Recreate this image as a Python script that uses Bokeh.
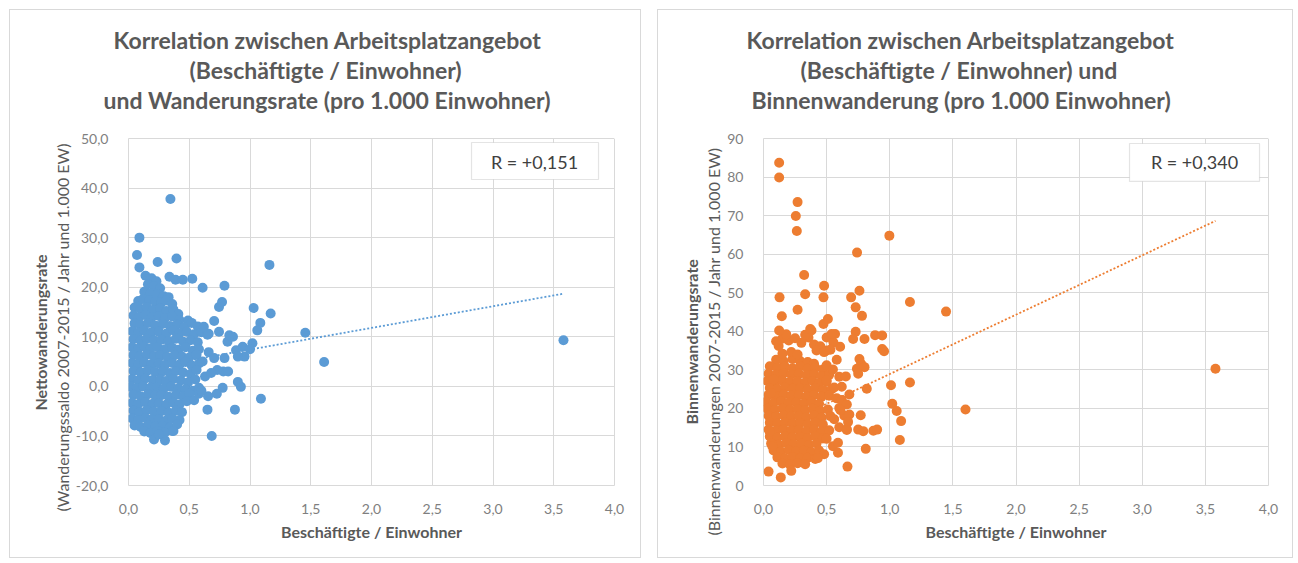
from bokeh.plotting import figure
from bokeh.layouts import row
from bokeh.models import Range1d, FixedTicker, Label, BoxAnnotation, Title, LinearAxis
from bokeh.embed import file_html
from bokeh.resources import INLINE

# ---------------------------------------------------------------- data
x_ticks = [0.0, 0.5, 1.0, 1.5, 2.0, 2.5, 3.0, 3.5, 4.0]
x_tick_labels = ["0,0", "0,5", "1,0", "1,5", "2,0", "2,5", "3,0", "3,5", "4,0"]

netto_ticks = [-20, -10, 0, 10, 20, 30, 40, 50]
netto_tick_labels = ["-20,0", "-10,0", "0,0", "10,0", "20,0", "30,0", "40,0", "50,0"]

binnen_ticks = [0, 10, 20, 30, 40, 50, 60, 70, 80, 90]
binnen_tick_labels = ["0", "10", "20", "30", "40", "50", "60", "70", "80", "90"]

# Nettowanderungsrate: dense core of municipalities
netto_core = [
    (0.14, 22.3), (0.19, 21.8), (0.23, 21.2),
    (0.16, 20.6), (0.21, 20.2), (0.26, 19.8),
    (0.13, 19.1), (0.18, 18.8), (0.24, 18.6), (0.29, 18.2), (0.33, 18.0),
    (0.08, 17.2), (0.12, 17.6), (0.17, 17.4), (0.22, 17.1), (0.27, 16.9), (0.31, 17.3), (0.36, 16.6),
    (0.05, 15.9), (0.10, 15.6), (0.15, 16.0), (0.20, 15.4), (0.26, 15.7), (0.31, 15.2), (0.37, 15.5), (0.41, 14.6),
    (0.04, 14.3), (0.09, 14.0), (0.14, 14.4), (0.19, 13.9), (0.25, 14.2), (0.30, 13.8), (0.36, 14.1), (0.42, 13.4), (0.49, 13.3),
    (0.05, 12.7), (0.10, 12.4), (0.16, 12.8), (0.22, 12.3), (0.28, 12.6), (0.34, 12.2), (0.40, 12.5), (0.46, 11.9), (0.52, 12.8), (0.57, 12.1),
    (0.03, 11.1), (0.08, 10.8), (0.13, 11.2), (0.19, 10.9), (0.25, 11.0), (0.31, 10.6), (0.37, 11.3), (0.42, 10.7), (0.48, 11.0), (0.54, 10.5), (0.60, 10.9), (0.65, 10.4),
    (0.04, 9.5), (0.10, 9.2), (0.15, 9.6), (0.21, 9.3), (0.27, 9.4), (0.33, 9.1), (0.39, 9.6), (0.45, 9.0), (0.51, 9.3), (0.57, 8.9),
    (0.03, 7.9), (0.08, 7.6), (0.13, 8.0), (0.18, 7.7), (0.24, 7.9), (0.30, 7.5), (0.36, 7.8), (0.41, 7.4), (0.47, 7.9), (0.53, 7.2), (0.58, 7.5),
    (0.04, 6.3), (0.09, 6.0), (0.15, 6.4), (0.21, 6.1), (0.26, 6.2), (0.32, 5.9), (0.38, 6.3), (0.44, 6.0), (0.50, 5.8), (0.56, 6.4),
    (0.03, 4.7), (0.08, 4.4), (0.13, 4.8), (0.19, 4.5), (0.25, 4.6), (0.30, 4.3), (0.36, 4.7), (0.42, 4.4), (0.47, 4.9), (0.52, 4.2), (0.58, 4.6),
    (0.04, 3.1), (0.10, 2.8), (0.16, 3.2), (0.22, 2.9), (0.28, 3.0), (0.34, 2.7), (0.39, 3.1), (0.45, 2.8), (0.51, 2.5), (0.56, 3.3),
    (0.03, 1.5), (0.08, 1.2), (0.14, 1.6), (0.20, 1.3), (0.26, 1.4), (0.31, 1.1), (0.37, 1.5), (0.43, 1.2), (0.49, 0.8), (0.55, 1.4),
    (0.02, -0.1), (0.07, -0.4), (0.12, 0.0), (0.18, -0.3), (0.24, -0.2), (0.29, -0.5), (0.35, -0.1), (0.41, -0.4), (0.47, -0.6), (0.53, -0.9), (0.58, -0.3),
    (0.04, -1.7), (0.10, -2.0), (0.16, -1.6), (0.22, -1.9), (0.27, -1.8), (0.33, -2.1), (0.39, -1.7), (0.45, -2.0), (0.50, -1.5),
    (0.03, -3.3), (0.08, -3.6), (0.14, -3.2), (0.20, -3.5), (0.25, -3.4), (0.31, -3.7), (0.37, -3.3), (0.42, -3.6), (0.48, -3.0), (0.54, -2.8),
    (0.04, -4.9), (0.09, -5.2), (0.15, -4.8), (0.21, -5.1), (0.27, -5.0), (0.33, -5.3), (0.39, -4.9), (0.44, -5.2),
    (0.03, -6.5), (0.08, -6.8), (0.14, -6.4), (0.19, -6.7), (0.25, -6.6), (0.31, -6.9), (0.36, -6.5), (0.42, -6.8),
    (0.05, -7.9), (0.10, -8.2), (0.16, -7.8), (0.22, -8.1), (0.28, -8.0), (0.34, -8.3), (0.40, -7.7),
    (0.13, -9.1), (0.18, -9.4), (0.24, -9.0), (0.30, -9.3), (0.36, -9.0),
]

# Nettowanderungsrate: scattered municipalities outside the core
netto_spread = [
    (0.345, 37.8), (0.09, 30.0), (0.07, 26.5), (0.24, 25.1), (0.395, 25.8), (0.09, 24.0),
    (1.16, 24.5), (0.337, 22.1), (0.387, 21.5), (0.447, 21.5), (0.525, 21.7), (0.61, 19.9),
    (0.79, 20.3), (0.745, 16.0), (0.77, 17.0), (0.705, 13.2), (1.03, 15.8), (1.17, 14.7),
    (1.085, 12.8), (1.06, 11.3), (1.455, 10.8), (1.61, 4.9), (1.09, -2.5), (0.876, -4.7),
    (0.65, -4.7), (0.685, -10.0), (0.90, 0.9), (0.925, -0.1), (0.775, -0.3), (0.727, -1.5),
    (0.655, -2.0), (0.61, 5.0), (0.66, 6.9), (0.705, 5.7), (0.79, 5.7), (0.78, 3.0),
    (0.73, 3.3), (0.82, 3.0), (0.815, 9.0), (0.885, 7.3), (0.94, 8.0), (0.955, 6.0),
    (1.02, 8.7), (1.00, 7.5), (0.90, 6.0), (0.86, 10.0), (0.745, 11.0), (0.66, 10.6),
    (0.83, 10.3), (0.63, 2.0), (0.68, 2.7), (0.58, -1.5), (0.60, -0.9), (0.62, 12.0),
    (0.21, -10.7), (0.30, -10.9), (0.25, -9.7), (0.37, -9.0), (3.58, 9.3),
]

# Binnenwanderungsrate: dense core of municipalities
binnen_core = [
    (0.10, 32.6), (0.16, 32.2), (0.23, 32.8), (0.29, 32.3), (0.35, 32.0), (0.40, 31.6),
    (0.05, 30.9), (0.11, 30.5), (0.17, 30.8), (0.23, 30.4), (0.29, 30.9), (0.35, 30.3), (0.41, 30.6), (0.47, 30.1),
    (0.04, 29.0), (0.10, 28.7), (0.16, 29.1), (0.22, 28.8), (0.28, 29.0), (0.34, 28.6), (0.40, 28.9), (0.46, 28.4), (0.52, 28.7),
    (0.03, 27.1), (0.09, 26.8), (0.15, 27.2), (0.21, 26.9), (0.27, 27.0), (0.33, 26.7), (0.39, 27.1), (0.44, 26.6), (0.50, 26.9),
    (0.05, 25.3), (0.11, 25.0), (0.17, 25.4), (0.23, 25.1), (0.29, 25.2), (0.35, 24.9), (0.41, 25.3), (0.47, 24.8), (0.54, 25.0),
    (0.04, 23.5), (0.10, 23.2), (0.16, 23.6), (0.22, 23.3), (0.28, 23.4), (0.34, 23.1), (0.40, 23.5), (0.46, 23.0), (0.52, 23.3),
    (0.02, 21.7), (0.08, 21.4), (0.14, 21.8), (0.20, 21.5), (0.26, 21.6), (0.32, 21.3), (0.38, 21.7), (0.44, 21.2),
    (0.03, 19.9), (0.09, 19.6), (0.15, 20.0), (0.21, 19.7), (0.27, 19.8), (0.33, 19.5), (0.39, 19.9), (0.45, 19.4), (0.51, 19.7),
    (0.04, 18.1), (0.10, 17.8), (0.16, 18.2), (0.22, 17.9), (0.28, 18.0), (0.34, 17.7), (0.40, 18.1), (0.46, 17.6), (0.53, 18.0),
    (0.05, 16.3), (0.11, 16.0), (0.17, 16.4), (0.23, 16.1), (0.29, 16.2), (0.35, 15.9), (0.41, 16.3), (0.47, 15.8),
    (0.04, 14.5), (0.10, 14.2), (0.16, 14.6), (0.22, 14.3), (0.28, 14.4), (0.34, 14.1), (0.40, 14.5), (0.46, 14.0), (0.52, 14.3),
    (0.05, 12.7), (0.11, 12.4), (0.17, 12.8), (0.23, 12.5), (0.29, 12.6), (0.35, 12.3), (0.41, 12.7), (0.47, 12.2),
    (0.06, 10.9), (0.12, 10.6), (0.18, 11.0), (0.24, 10.7), (0.30, 10.8), (0.36, 10.5), (0.42, 10.9),
    (0.08, 9.1), (0.14, 8.8), (0.20, 9.2), (0.26, 8.9), (0.32, 9.0), (0.38, 8.7), (0.44, 9.1),
    (0.11, 7.3), (0.17, 7.0), (0.23, 7.4), (0.29, 7.1), (0.35, 7.2), (0.41, 6.9),
    (0.15, 5.7), (0.21, 5.4), (0.27, 5.8), (0.33, 5.5),
]

# Binnenwanderungsrate: scattered municipalities outside the core
binnen_spread = [
    (0.12, 36.2), (0.15, 38.1), (0.20, 37.6), (0.25, 38.2), (0.30, 37.0), (0.356, 38.4),
    (0.40, 36.6), (0.45, 36.1), (0.50, 38.4), (0.554, 37.1), (0.607, 36.0), (0.50, 35.0),
    (0.567, 39.3), (0.38, 40.2), (0.33, 39.1), (0.42, 35.0), (0.48, 34.6), (0.53, 35.2),
    (0.15, 34.2), (0.22, 34.6), (0.27, 34.0), (0.18, 39.2), (0.10, 37.4), (0.50, 31.2),
    (0.55, 30.1), (0.50, 27.3), (0.56, 25.4), (0.58, 22.6), (0.60, 20.1), (0.56, 17.2),
    (0.60, 15.1), (0.50, 12.1), (0.55, 10.2), (0.48, 8.1), (0.43, 7.1), (0.07, 10.2),
    (0.05, 14.0), (0.06, 24.0), (0.08, 27.5), (0.62, 22.2), (0.64, 18.1), (0.66, 14.6),
    (0.62, 25.6), (0.60, 28.2), (0.58, 32.6), (0.68, 23.6), (0.66, 21.0),
    (0.124, 83.7), (0.124, 79.9), (0.27, 73.5), (0.256, 69.9), (0.264, 66.0), (0.997, 64.8),
    (0.741, 60.4), (0.322, 54.6), (0.33, 49.6), (0.127, 48.8), (0.48, 51.8), (0.475, 48.8),
    (0.694, 48.8), (0.76, 50.5), (0.27, 45.6), (1.16, 47.6), (1.446, 45.1), (0.145, 43.9),
    (0.73, 46.2), (0.78, 44.0), (0.475, 41.9), (0.51, 43.2), (0.124, 40.2), (0.37, 40.6),
    (0.54, 39.3), (0.73, 39.9), (0.71, 38.0), (0.80, 38.0), (0.884, 39.0), (0.94, 38.9),
    (0.94, 35.4), (0.955, 34.8), (0.76, 32.8), (0.773, 31.6), (0.74, 30.3), (0.80, 30.7),
    (0.75, 29.0), (0.652, 28.3), (1.01, 26.0), (1.16, 26.7), (0.818, 25.1), (1.02, 21.2),
    (1.055, 19.3), (1.09, 16.7), (1.08, 11.8), (1.60, 19.7), (0.77, 18.2), (0.75, 14.5),
    (0.79, 14.1), (0.87, 14.2), (0.90, 14.5), (0.81, 9.5), (0.665, 4.9), (0.68, 18.4),
    (0.67, 16.5), (0.66, 14.4), (0.59, 11.1), (0.59, 8.5), (0.61, 19.5), (0.04, 3.6),
    (0.137, 2.1), (0.22, 3.8), (3.58, 30.3),
]

# linear trend lines (intercept, slope) and correlation coefficients
netto_trend = (3.05, 4.37)
binnen_trend = (13.5, 15.4)
netto_r = "R = +0,151"
binnen_r = "R = +0,340"

# ---------------------------------------------------------------- style
FONT = "Lato"
TITLE_C = "#595959"
TICK_C = "#7f7f7f"
GRID_C = "#d9d9d9"
BLUE = "#5b9bd5"
ORANGE = "#ed7d31"


def add_title(p, side, text, size, bold, standoff, offset, align="left"):
    p.add_layout(Title(text=text, align=align, offset=offset, standoff=standoff,
                       text_font=FONT, text_font_size=size,
                       text_font_style="bold" if bold else "normal",
                       text_color=TITLE_C), side)


def build_panel(points_a, points_b, color, trend, r_text, y_ticks, y_labels, y_range,
                geom, titles, ylabels, r_box, r_center):
    # geom: figure origin (ox, oy), size (w, h) and frame (left, top, fw, fh) in page pixels
    ox, oy, w, h, fl, ft, fw, fh = geom
    y0, y1 = y_range
    x0, x1 = 0.0, 4.0

    def dx(px):
        return x0 + (px - fl) / fw * (x1 - x0)

    def dy(py):
        return y1 - (py - ft) / fh * (y1 - y0)

    p = figure(width=w, height=h, output_backend="svg", toolbar_location=None,
               x_range=Range1d(x0, x1), y_range=Range1d(y0, y1),
               min_border_left=fl - ox, min_border_top=ft - oy,
               min_border_right=ox + w - fl - fw, min_border_bottom=oy + h - ft - fh,
               background_fill_color="white", border_fill_color="white",
               outline_line_color=GRID_C)
    p.styles = {"border": "1px solid #d9d9d9", "box-sizing": "border-box"}

    for ax, ticks, labels in ((p.xaxis[0], x_ticks, x_tick_labels), (p.yaxis[0], y_ticks, y_labels)):
        ax.ticker = FixedTicker(ticks=ticks)
        ax.major_label_overrides = {t: l for t, l in zip(ticks, labels)}
        ax.axis_line_color = None
        ax.major_tick_line_color = None
        ax.minor_tick_line_color = None
        ax.major_label_text_font = FONT
        ax.major_label_text_font_size = "14px"
        ax.major_label_text_color = TICK_C
    p.xaxis.major_label_standoff = 12
    p.yaxis.major_label_standoff = 14

    p.xgrid.ticker = FixedTicker(ticks=x_ticks)
    p.ygrid.ticker = FixedTicker(ticks=y_ticks)
    for g in (p.xgrid[0], p.ygrid[0]):
        g.grid_line_color = GRID_C
        g.grid_line_width = 1

    # trend line across the range of the data
    xs = [x for x, _ in points_a + points_b]
    tx = [min(xs), max(xs)]
    ty = [trend[0] + trend[1] * v for v in tx]
    p.line(tx, ty, line_color=color, line_width=1.8, line_dash="2 2")

    # scatter points
    px = [x for x, _ in points_a + points_b]
    py = [y for _, y in points_a + points_b]
    p.scatter(px, py, marker="circle", size=10, fill_color=color, line_color=color, line_width=0)

    # correlation box
    bl, bt, br, bb = r_box
    p.add_layout(BoxAnnotation(left=dx(bl), right=dx(br), top=dy(bt), bottom=dy(bb),
                               fill_color="white", fill_alpha=1.0,
                               line_color="#a6a6a6", line_width=1.2, level="overlay"))
    p.add_layout(Label(x=dx(r_center[0]), y=dy(r_center[1]), text=r_text,
                       text_font=FONT, text_font_size="18px", text_color="#404040",
                       text_align="center", text_baseline="middle", level="overlay"))

    # empty band between the frame and the chart title: a top axis whose single
    # tick and label are drawn in the background colour
    gap = LinearAxis(ticker=FixedTicker(ticks=[x1]), axis_line_color=None,
                     major_tick_line_color="white", minor_tick_line_color=None,
                     major_tick_in=0, major_tick_out=25, major_label_standoff=0,
                     major_label_overrides={x1: ""}, major_label_text_font_size="4px",
                     major_label_text_color="white")
    p.add_layout(gap, "above")

    # chart title: three lines, stacked from the frame outwards
    for text, offset in titles:
        add_title(p, "above", text, "23px", True, 0, offset)

    # axis titles
    add_title(p, "below", "Beschäftigte / Einwohner", "16px", True, 7, 0, align="center")
    for text, bold, standoff, offset in ylabels:
        add_title(p, "left", text, "16px", bold, standoff, offset)
    return p


left = build_panel(
    netto_core, netto_spread, BLUE, netto_trend, netto_r,
    netto_ticks, netto_tick_labels, (-20, 50),
    (9, 9, 632, 549, 127, 137, 486, 347),
    [("und Wanderungsrate (pro 1.000 Einwohner)", -25),
     ("(Beschäftigte / Einwohner)", 61),
     ("Korrelation zwischen Arbeitsplatzangebot", -15)],
    [("(Wanderungssaldo 2007-2015 / Jahr und 1.000 EW)", False, 2, -26),
     ("Nettowanderungsrate", True, 0, 75)],
    (470, 141, 597, 178), (533, 160),
)
left.margin = (9, 0, 0, 9)

right = build_panel(
    binnen_core, binnen_spread, ORANGE, binnen_trend, binnen_r,
    binnen_ticks, binnen_tick_labels, (0, 90),
    (657, 9, 636, 549, 762, 137, 505, 348),
    [("Binnenwanderung (pro 1.000 Einwohner)", -12),
     ("(Beschäftigte / Einwohner) und", 37),
     ("Korrelation zwischen Arbeitsplatzangebot", -17)],
    [("(Binnenwanderungen 2007-2015 / Jahr und 1.000 EW)", False, 3, -50),
     ("Binnenwanderungsrate", True, 0, 61)],
    (1128, 142, 1258, 180), (1193, 161),
)
right.margin = (9, 0, 0, 16)

layout = row(left, right)
open("out.html", "w").write(file_html(layout, INLINE))
